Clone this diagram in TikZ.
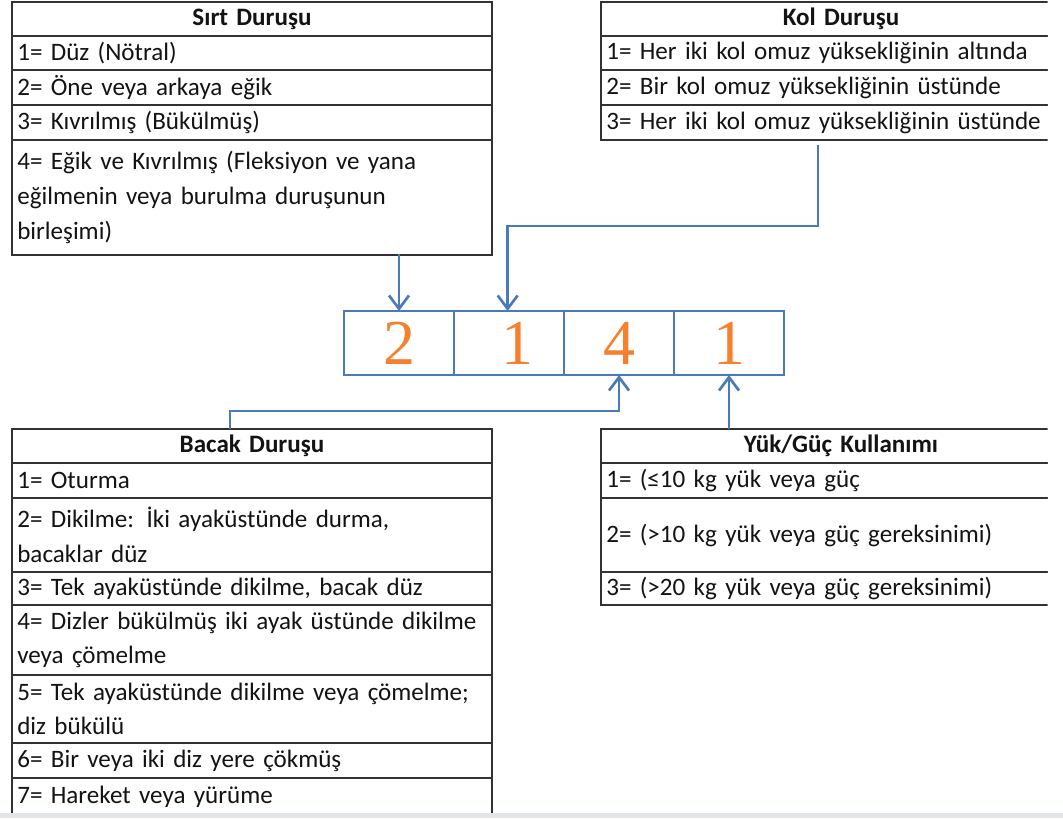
\documentclass[tikz,border=0pt]{standalone}
\usepackage{fontspec}
\setmainfont{Carlito}
\newfontfamily\digitfont{Liberation Serif}
\usetikzlibrary{arrows.meta}

\definecolor{linkblue}{RGB}{74,122,188}
\definecolor{digitorange}{RGB}{246,128,44}
\definecolor{gridgray}{RGB}{50,50,50}
\definecolor{textdark}{RGB}{20,18,20}
\definecolor{edgegray}{RGB}{226,229,234}

\tikzset{
  cell/.style={draw=gridgray, line width=1.5pt, rectangle, anchor=north west, outer sep=0pt,
    inner xsep=4pt, inner ysep=0pt, text width=352pt, align=left, text=textdark,
    font=\fontsize{18.8}{26}\selectfont},
  headcell/.style={cell, align=center, font=\fontsize{18.8}{26}\selectfont\bfseries},
  rowh/.style={minimum height=#1*0.75pt},
  codecell/.style={draw=linkblue, line width=2pt, rectangle, anchor=north west, outer sep=0pt,
    minimum width=82.5pt, minimum height=48pt, inner sep=0pt, text=digitorange,
    font=\digitfont\fontsize{48}{48}\selectfont},
  link/.style={draw=linkblue, line width=2pt, -{Straight Barb[length=10pt,width=15pt]}}
}

\begin{document}
\begin{tikzpicture}[x=0.75pt,y=0.75pt,yscale=-1,xscale=1]
\useasboundingbox (0,0) rectangle (1063,818);

\begin{scope}
\clip (0,0) rectangle (1047.5,812.5);

% Sirt Durusu
\node[headcell, rowh=34] (sirt-h) at (12,2) {Sırt Duruşu};
\node[cell, rowh=34] (sirt1) at (sirt-h.south west) {1= Düz (Nötral)};
\node[cell, rowh=35] (sirt2) at (sirt1.south west) {2= Öne veya arkaya eğik};
\node[cell, rowh=35] (sirt3) at (sirt2.south west) {3= Kıvrılmış (Bükülmüş)};
\node[cell, rowh=115] (sirt4) at (sirt3.south west) {4= Eğik ve Kıvrılmış (Fleksiyon ve yana\\eğilmenin veya burulma duruşunun\\birleşimi)};

% Kol Durusu
\node[headcell, rowh=34] (kol-h) at (601,2) {Kol Duruşu};
\node[cell, rowh=34] (kol1) at (kol-h.south west) {1= Her iki kol omuz yüksekliğinin altında};
\node[cell, rowh=35] (kol2) at (kol1.south west) {2= Bir kol omuz yüksekliğinin üstünde};
\node[cell, rowh=35] (kol3) at (kol2.south west) {3= Her iki kol omuz yüksekliğinin üstünde};

% Bacak Durusu
\node[headcell, rowh=34] (bacak-h) at (12,429) {Bacak Duruşu};
\node[cell, rowh=35] (bacak1) at (bacak-h.south west) {1= Oturma};
\node[cell, rowh=74] (bacak2) at (bacak1.south west) {2= Dikilme: İki ayaküstünde durma,\\bacaklar düz};
\node[cell, rowh=33] (bacak3) at (bacak2.south west) {3= Tek ayaküstünde dikilme, bacak düz};
\node[cell, rowh=70] (bacak4) at (bacak3.south west) {4= Dizler bükülmüş iki ayak üstünde dikilme\\veya çömelme};
\node[cell, rowh=68] (bacak5) at (bacak4.south west) {5= Tek ayaküstünde dikilme veya çömelme;\\diz bükülü};
\node[cell, rowh=35] (bacak6) at (bacak5.south west) {6= Bir veya iki diz yere çökmüş};
\node[cell, rowh=38] (bacak7) at (bacak6.south west) {7= Hareket veya yürüme};

% Yuk/Guc Kullanimi
\node[headcell, rowh=34] (yuk-h) at (601,429) {Yük/Güç Kullanımı};
\node[cell, rowh=35] (yuk1) at (yuk-h.south west) {1= (≤10 kg yük veya güç};
\node[cell, rowh=74] (yuk2) at (yuk1.south west) {2= (>10 kg yük veya güç gereksinimi)};
\node[cell, rowh=33] (yuk3) at (yuk2.south west) {3= (>20 kg yük veya güç gereksinimi)};
\end{scope}

% Kod
\node[codecell] (kod1) at (344,311) {2};
\node[codecell] (kod2) at (kod1.north east) {\hspace{12pt}1};
\node[codecell] (kod3) at (kod2.north east) {4};
\node[codecell] (kod4) at (kod3.north east) {1};

% Connectors
\coordinate (kolstart) at (818,145);
\coordinate (bacakstart) at (230,429);
\draw[link] ([yshift=-1]kod1.north |- sirt4.south) -- (kod1.north);
\draw[link] (kolstart) -- ++(0,81) -| ([xshift=-1]kod2.north);
\draw[link] (bacakstart) -- ++(0,-18) -| (kod3.south);
\draw[link] (kod4.south |- yuk-h.north) -- (kod4.south);

%page edge
\fill[edgegray] (0,813) rectangle (1063,818);

\end{tikzpicture}
\end{document}
